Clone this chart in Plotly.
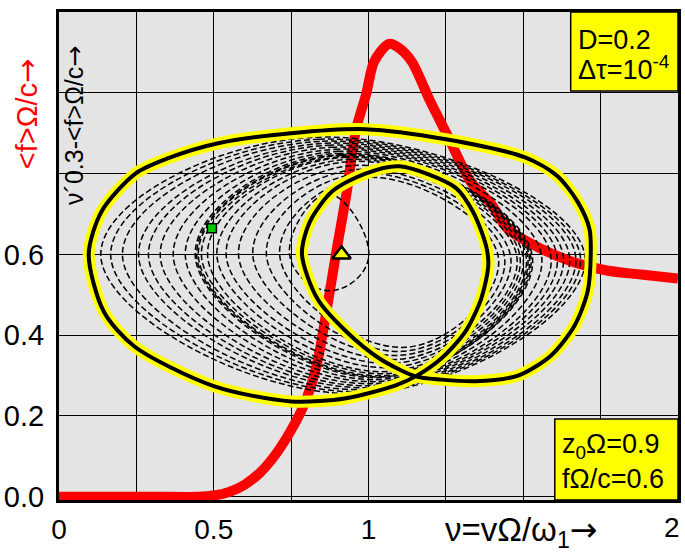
import plotly.graph_objects as go

# ---- data ----
red_x = [0.0, 0.30, 0.45, 0.50, 0.55, 0.60, 0.65, 0.70, 0.75, 0.793, 0.831, 0.864, 0.896, 0.93, 0.96, 0.992,
         1.018, 1.066, 1.10, 1.14, 1.20, 1.26, 1.33, 1.397, 1.45, 1.557, 1.666, 1.77, 1.88, 2.0]
red_y = [0.0, 0.0, 0.0, 0.003, 0.012, 0.03, 0.06, 0.105, 0.165, 0.23, 0.32, 0.458, 0.606, 0.756, 0.91, 0.995,
         1.077, 1.121, 1.11, 1.077, 0.978, 0.887, 0.78, 0.724, 0.663, 0.614, 0.58, 0.56, 0.55, 0.54]

cycle_x = [0.096, 0.138, 0.247, 0.353, 0.514, 0.75, 0.99, 1.25, 1.506, 1.61, 1.676, 1.714, 1.718, 1.708, 1.666,
           1.59, 1.483, 1.345, 1.236, 1.152, 1.034, 0.928, 0.835, 0.785, 0.81, 0.883, 0.99, 1.10, 1.28, 1.338,
           1.38, 1.387, 1.364, 1.313, 1.236, 1.152, 1.088, 0.928, 0.75, 0.5, 0.244, 0.145, 0.096]
cycle_y = [0.60, 0.707, 0.80, 0.838, 0.875, 0.90, 0.91, 0.885, 0.84, 0.794, 0.73, 0.663, 0.596, 0.508, 0.424,
           0.35, 0.30, 0.286, 0.29, 0.298, 0.343, 0.409, 0.49, 0.60, 0.68, 0.756, 0.80, 0.818, 0.766, 0.705,
           0.621, 0.572, 0.49, 0.409, 0.343, 0.298, 0.276, 0.244, 0.236, 0.274, 0.372, 0.458, 0.60]

# dashed transient loops: left / right / top / bottom extremes
loop_left = [0.745, 0.713, 0.67, 0.626, 0.58, 0.54, 0.51, 0.48, 0.46, 0.45, 0.445, 0.44, 0.408, 0.369, 0.327,
             0.289, 0.257, 0.205, 0.167, 0.135]
loop_right = [1.00, 1.42, 1.44, 1.46, 1.48, 1.49, 1.50, 1.51, 1.515, 1.52, 1.525, 1.53, 1.56, 1.59, 1.61,
              1.63, 1.65, 1.67, 1.685, 1.70]
loop_top = [0.75, 0.79, 0.80, 0.81, 0.82, 0.83, 0.835, 0.84, 0.842, 0.845, 0.847, 0.85, 0.855, 0.86, 0.865,
            0.87, 0.875, 0.88, 0.885, 0.89]
loop_bottom = [0.51, 0.37, 0.36, 0.35, 0.34, 0.33, 0.32, 0.31, 0.305, 0.30, 0.297, 0.295, 0.29, 0.285, 0.28,
               0.275, 0.27, 0.265, 0.26, 0.255]
loop_top_x = [0.87, 0.98, 0.97, 0.96, 0.95, 0.94, 0.93, 0.92, 0.92, 0.91, 0.91, 0.90, 0.90, 0.89, 0.88,
              0.87, 0.86, 0.85, 0.84, 0.83]
loop_bottom_x = [0.87, 1.12, 1.11, 1.10, 1.09, 1.08, 1.07, 1.06, 1.06, 1.05, 1.05, 1.04, 1.03, 1.02, 1.01,
                 1.00, 0.99, 0.98, 0.97, 0.96]

fixed_point = (0.913, 0.6)
start_point = (0.494, 0.665)

x_tickvals = [0, 0.25, 0.5, 0.75, 1.0, 1.25, 1.5, 1.75, 2.0]
x_ticktext = ['0', '', '0.5', '', '1', '', '', '', '']
y_tickvals = [0, 0.2, 0.4, 0.6, 0.8, 1.0, 1.2]
y_ticktext = ['0.0', '0.2', '0.4', '0.6', '', '', '1.2']

FONT = 'Liberation Sans, Arial, sans-serif'
ARROW = '<span style="font-family:DejaVu Sans">→</span>'

fig = go.Figure()

fig.add_trace(go.Scatter(x=red_x, y=red_y, mode='lines',
                         line=dict(color='#ff0000', width=10, shape='spline', smoothing=0.8)))

dx, dy = [], []
for L, R, T, B, tx, bx in zip(loop_left, loop_right, loop_top, loop_bottom, loop_top_x, loop_bottom_x):
    dx += [L, tx, R, bx, L, None]
    dy += [0.6, T, 0.59, B, 0.6, None]
fig.add_trace(go.Scatter(x=dx, y=dy, mode='lines', connectgaps=False,
                         line=dict(color='black', width=1.5, dash='6px,3px', shape='spline', smoothing=1.3)))

fig.add_trace(go.Scatter(x=cycle_x, y=cycle_y, mode='lines',
                         line=dict(color='#ffff00', width=12, shape='spline', smoothing=0.8)))
fig.add_trace(go.Scatter(x=cycle_x, y=cycle_y, mode='lines',
                         line=dict(color='black', width=4, shape='spline', smoothing=0.8)))

fig.add_trace(go.Scatter(x=[fixed_point[0]], y=[fixed_point[1]], mode='markers',
                         marker=dict(symbol='triangle-up', size=16, color='#ffff00',
                                     line=dict(color='black', width=2.5))))
fig.add_trace(go.Scatter(x=[start_point[0]], y=[start_point[1]], mode='markers',
                         marker=dict(symbol='square', size=9, color='#00cc00',
                                     line=dict(color='black', width=1.5))))

W, H = 685, 558
L_, R_, T_, B_ = 58, 4, 12, 58
pw, ph = W - L_ - R_, H - T_ - B_


def px(x):
    return (x - L_) / pw


def py(y):
    return (H - B_ - y) / ph


fig.update_layout(
    width=W, height=H, showlegend=False,
    margin=dict(l=L_, r=R_, t=T_, b=B_),
    paper_bgcolor='white', plot_bgcolor='#e4e4e4',
    font=dict(family=FONT, color='black'),
    xaxis=dict(range=[0, 2], tickvals=x_tickvals, ticktext=x_ticktext, showgrid=True,
               gridcolor='black', gridwidth=1, zeroline=False, showline=True, linecolor='black',
               linewidth=3, mirror=True, ticks='', ticklen=0, tickfont=dict(size=28),
               ticklabelstandoff=2),
    yaxis=dict(range=[-0.008, 1.2], tickvals=y_tickvals, ticktext=y_ticktext, showgrid=True,
               gridcolor='black', gridwidth=1, zeroline=False, showline=True, linecolor='black',
               linewidth=3, mirror=True, ticks='', ticklen=0, tickfont=dict(size=29),
               ticklabelstandoff=6),
)

# yellow parameter boxes
fig.add_shape(type='rect', xref='paper', yref='paper', x0=px(573), x1=1, y0=py(91), y1=1,
              fillcolor='#ffff00', line=dict(color='black', width=1.5), layer='above')
fig.add_shape(type='rect', xref='paper', yref='paper', x0=px(557), x1=1, y0=0, y1=py(419),
              fillcolor='#ffff00', line=dict(color='black', width=1.5), layer='above')

ann = [
    dict(text='D=0.2', x=px(578), y=py(40)),
    dict(text='Δτ=10<sup>-4</sup>', x=px(578), y=py(68)),
    dict(text='z<sub>0</sub>Ω=0.9', x=px(562), y=py(446)),
    dict(text='fΩ/c=0.6', x=px(562), y=py(479)),
]
for a in ann:
    fig.add_annotation(text=a['text'], x=a['x'], y=a['y'], xref='paper', yref='paper',
                       xanchor='left', yanchor='middle', showarrow=False,
                       font=dict(size=27, color='black', family=FONT))

# last x tick label (kept inside the page)
fig.add_annotation(text='2', x=px(675), y=py(527), xref='paper', yref='paper', showarrow=False,
                   xanchor='center', yanchor='middle', font=dict(size=28, color='black', family=FONT))

fig.add_annotation(text='&lt;f&gt;Ω/c' + ARROW, x=px(26), y=py(114), xref='paper', yref='paper',
                   textangle=-90, showarrow=False, xanchor='center', yanchor='middle',
                   font=dict(size=29, color='#ff0000', family=FONT))
fig.add_annotation(text='ν´0.3-&lt;f&gt;Ω/c' + ARROW, x=px(73), y=py(125), xref='paper', yref='paper',
                   textangle=-90, showarrow=False, xanchor='center', yanchor='middle',
                   font=dict(size=25, color='black', family=FONT))
fig.add_annotation(text='ν=vΩ/ω<sub>1</sub>' + ARROW, x=px(523), y=py(531), xref='paper', yref='paper',
                   showarrow=False, xanchor='center', yanchor='middle',
                   font=dict(size=33, color='black', family=FONT))

fig.write_html('out.html', config={'displayModeBar': False},
               post_script="document.body.style.margin='0';document.body.style.overflow='hidden';")
